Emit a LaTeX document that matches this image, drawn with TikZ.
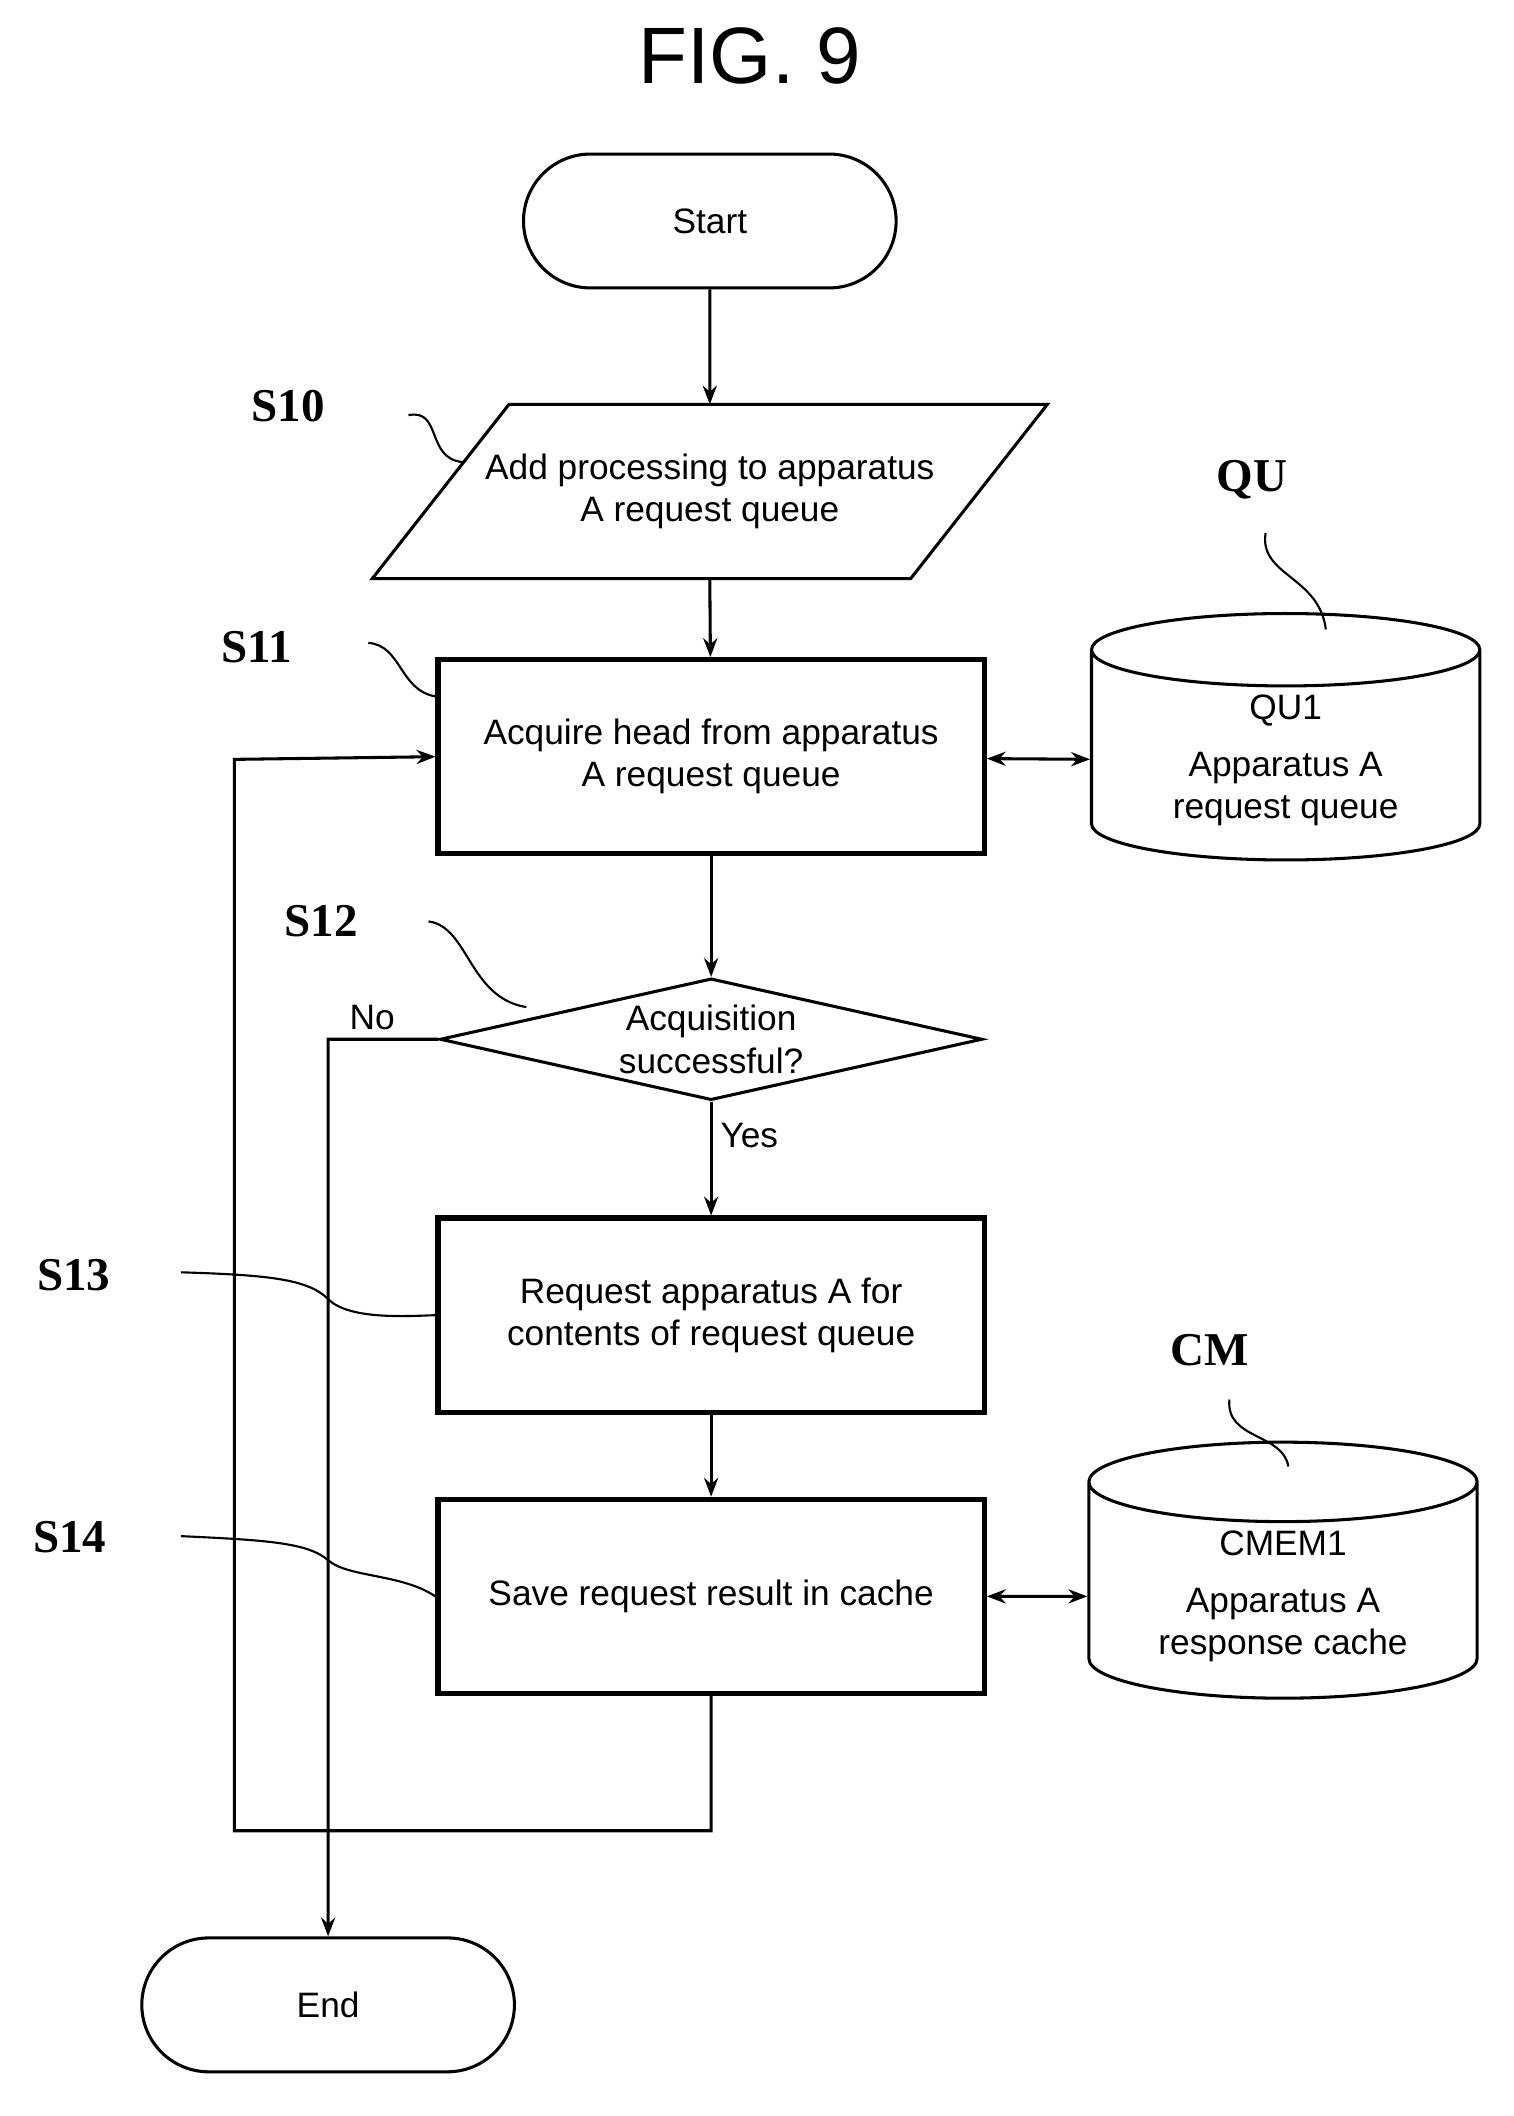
\documentclass[tikz,border=0pt]{standalone}
\usepackage{fontspec}
\setmainfont{Liberation Sans}
\newfontfamily\stepfont{Liberation Serif}
\usetikzlibrary{shapes.geometric,shapes.misc,arrows.meta}

\begin{document}
\begin{tikzpicture}[x=0.02cm,y=-0.02cm,>={Stealth[length=8pt]},
		txt/.style={font=\fontsize{15}{18}\selectfont,align=center},
		term/.style={txt,draw,line width=1.3pt,rounded rectangle,minimum width=5.8cm,minimum height=2cm},
		proc/.style={txt,draw,line width=2.2pt,minimum width=8.16cm,minimum height=2.9cm},
		dec/.style={txt,draw,line width=1.3pt,diamond,aspect=3.45,minimum width=8.1cm,inner sep=0pt},
		store/.style={txt,draw,line width=1.3pt,cylinder,shape border rotate=90,aspect=0.3,minimum width=5.8cm,minimum height=3.4cm},
		steplbl/.style={font=\stepfont\bfseries\fontsize{20}{22}\selectfont},
		lead/.style={line width=0.9pt}]
	\useasboundingbox (0,0) rectangle (1130,1580);
	\node[font=\fontsize{34}{38}\selectfont] (title) at (560,42) {FIG. 9};
	\node[term] (start) at (530,165) {Start};
	\draw[line width=1.3pt] (278,432) -- (380,302) -- (782,302) -- (680,432) -- cycle;
	\node[txt,minimum width=8cm,minimum height=2.6cm] (s10) at (530,367) {Add processing to apparatus\\A request queue};
	\node[proc] (s11) at (531,565) {Acquire head from apparatus\\A request queue};
	\node[dec]  (s12) at (531,776) {Acquisition\\successful?};
	\node[proc] (s13) at (531,982) {Request apparatus A for\\contents of request queue};
	\node[proc] (s14) at (531,1192) {Save request result in cache};
	\node[term] (end) at (245,1497) {End};
	\node[store] (qu1) at (960,568) {QU1\\[6pt]Apparatus A\\request queue};
	\node[store] (cm1) at (958,1192) {CMEM1\\[6pt]Apparatus A\\response cache};
	% step labels
	\node[steplbl] (l10) at (215,303) {S10};
	\node[steplbl] (l11) at (192,483) {S11};
	\node[steplbl] (l12) at (240,688) {S12};
	\node[steplbl] (l13) at (55,952) {S13};
	\node[steplbl] (l14) at (52,1148) {S14};
	\node[steplbl] (lqu) at (935,358) {QU};
	\node[steplbl] (lcm) at (903,1008) {CM};
	\draw[lead] (305,310) .. controls (330,305) and (318,342) .. (345,345);
	\draw[lead] (275,480) .. controls (300,482) and (298,515) .. (325,520);
	\draw[lead] (320,688) .. controls (350,692) and (350,745) .. (393,752);
	\draw[lead] (135,950) .. controls (200,952) and (230,955) .. (245,970) .. controls (260,985) and (300,983) .. (s13.west);
	\draw[lead] (135,1147) .. controls (200,1150) and (230,1152) .. (245,1165) .. controls (260,1178) and (300,1175) .. (s14.west);
	\draw[lead] (945,398) .. controls (940,430) and (985,430) .. (990,470);
	\draw[lead] (918,1045) .. controls (915,1075) and (958,1070) .. (962,1095);
	% flow
	\draw[->,line width=1.3pt] (start) -- (530,302);
	\draw[->,line width=1.3pt] (530,432) -- (s11);
	\draw[->,line width=1.3pt] (s11) -- (s12);
	\draw[->,line width=1.3pt] (s12) -- node[txt,right,pos=0.3]{Yes} (s13);
	\draw[->,line width=1.3pt] (s13) -- (s14);
	\draw[->,line width=1.3pt] (s12.west) -- node[txt,above,pos=0.6]{No} (245,776) -- (end);
	\draw[->,line width=1.3pt] (s14.south) -- (531,1367) -- (175,1367) -- (175,567) -- (s11.west);
	\draw[<->,line width=1.3pt] (s11) -- (qu1);
	\draw[<->,line width=1.3pt] (s14) -- (cm1);
\end{tikzpicture}
\end{document}
